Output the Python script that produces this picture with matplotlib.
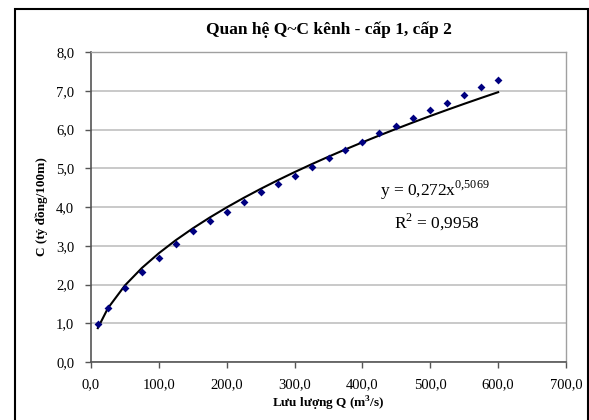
import matplotlib
matplotlib.use("Agg")
import matplotlib.pyplot as plt
import numpy as np
from matplotlib.patches import Rectangle
from matplotlib.ticker import FuncFormatter, MultipleLocator

plt.rcParams['font.family'] = ['Liberation Serif', 'DejaVu Serif']
plt.rcParams['mathtext.fontset'] = 'custom'
plt.rcParams['mathtext.rm'] = 'Liberation Serif'
plt.rcParams['mathtext.bf'] = 'Liberation Serif:bold'

# Data
q_values = [10, 25, 50, 75, 100, 125, 150, 175, 200, 225, 250, 275, 300,
            325, 350, 375, 400, 425, 450, 475, 500, 525, 550, 575, 600]
c_values = [0.98, 1.39, 1.90, 2.31, 2.68, 3.04, 3.37, 3.63, 3.88, 4.14,
            4.38, 4.59, 4.81, 5.04, 5.26, 5.47, 5.68, 5.90, 6.10, 6.30,
            6.50, 6.68, 6.90, 7.10, 7.28]
fit_a = 0.272
fit_b = 0.5069
r_squared = "0,9958"

title = "Quan hệ Q~C kênh - cấp 1, cấp 2"
xlabel = "Lưu lượng Q (m$^{\\mathbf{3}}$/s)"
ylabel = "C (tỷ đồng/100m)"

fig = plt.figure(figsize=(5.89, 4.20), dpi=100)
fig.patch.set_facecolor('white')
# outer border
fig.patches.append(Rectangle((15/589, -0.05), (588-15)/589, 1 - 9/420 + 0.05,
                             transform=fig.transFigure, fill=False,
                             edgecolor='black', linewidth=1.5))

ax = fig.add_axes([91/589, 1 - 362/420, (566-91)/589, (362-52)/420])

# trendline (power fit)
qx = np.array(q_values, dtype=float)
ax.plot(qx, fit_a * qx ** fit_b, color='black', linewidth=1.5, zorder=2)
ax.scatter(q_values, c_values, marker='D', s=16, color='#000080', zorder=3,
           linewidths=0)

ax.set_xlim(0, 700)
ax.set_ylim(0, 8)
ax.xaxis.set_major_locator(MultipleLocator(100))
ax.yaxis.set_major_locator(MultipleLocator(1))
fmt = FuncFormatter(lambda v, p: f"{v:.1f}".replace('.', ','))
ax.xaxis.set_major_formatter(fmt)
ax.yaxis.set_major_formatter(fmt)
ax.grid(axis='y', color='#c0c0c0', linewidth=1.2)
ax.set_axisbelow(True)
for s in ['top', 'right']:
    ax.spines[s].set_color('#a0a0a0')
    ax.spines[s].set_linewidth(1.0)
for s in ['left', 'bottom']:
    ax.spines[s].set_color('#555555')
    ax.spines[s].set_linewidth(1.2)
ax.tick_params(axis='both', direction='out', length=4, width=1.0,
               color='#555555', labelsize=10.5, pad=8)

ax.set_title(title, fontsize=12.5, fontweight='bold', pad=13)
ax.set_xlabel(xlabel, fontsize=9.5, fontweight='bold', labelpad=2)
ax.set_ylabel(ylabel, fontsize=9.5, fontweight='bold', labelpad=6)

ax.text(435/589, 1 - 190/420,
        "y = 0,272x$^{0{,}5069}$", transform=fig.transFigure,
        ha='center', va='center', fontsize=12.5)
ax.text(437/589, 1 - 222/420,
        "R$^{2}$ = " + r_squared, transform=fig.transFigure,
        ha='center', va='center', fontsize=12.5)

fig.savefig("out.png", dpi=100, facecolor='white')
